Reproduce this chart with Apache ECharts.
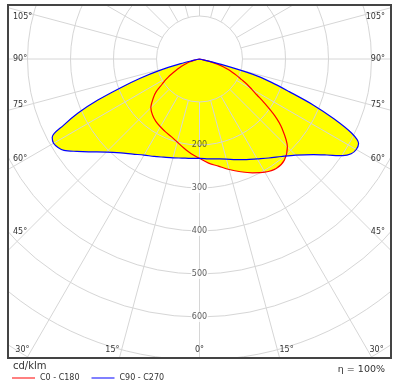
<!DOCTYPE html>
<html><head><meta charset="utf-8">
<script src="https://cdn.jsdelivr.net/npm/echarts@6/dist/echarts.min.js"></script>
<style>html,body{margin:0;padding:0;background:#fff}#c{width:401px;height:388px}</style>
</head><body><div id="c"></div>
<script>
// gamma angles (deg from nadir)
const gammaAngles = [0,5,10,15,20,25,30,35,40,45,50,53,56,58,60,62,64,66,68,70,72,74,76,77,78,80,85,90];
// C0 - C180 plane (cd/klm)
const c0Values   = [231,243,253,266,279,292,304,311,307,289,250,219,181,157,140,125,108,95,82,70,58,45,25,16,9,3,0,0];
const c180Values = [231,221,210,200,192,187,182,177,170,160,140,126,105,95,84,72,62,53,45,37,30,23,15,11,8,3,0,0];
// C90 - C270 plane (cd/klm)
const c90Values  = [231,233,236,241,249,258,268,281,296,316,346,371,402,416,421,419,394,343,285,222,176,128,52,12,0,0,0,0];
const c270Values = [231,232,234,238,243,250,258,270,285,306,336,357,380,388,392,388,352,310,255,195,145,98,45,15,0,0,0,0];
const radiusTicks = [200,300,400,500,600];
const angleTickLabels = [0,15,30,45,60,75,90,105];
const seriesNames = ['C0 - C180','C90 - C270'];
const unitLabel = 'cd/klm';
const efficiencyLabel = 'η = 100%';

const FONT = '"DejaVu Sans", Verdana, sans-serif';
const cx = 199.5, cy = 59, px100 = 43;
const frame = {l:8, t:5, r:391, b:358};

function side(values){
  const out = [];
  for (let i = 0; i < gammaAngles.length; i++) {
    out.push([gammaAngles[i], values[i]]);
    if (values[i] === 0) break;
  }
  return out;
}
function curve(rightVals, leftVals){
  const r = side(rightVals), l = side(leftVals);
  const pts = [];
  for (let i = r.length - 1; i >= 1; i--) pts.push([r[i][1], 360 - r[i][0]]);
  for (let i = 0; i < l.length; i++) pts.push([l[i][1], l[i][0]]);
  return pts;
}
const redCurve = curve(c0Values, c180Values);
const blueCurve = curve(c90Values, c270Values);

// angle labels placed along spokes at the frame edges
const graphics = [];
const txt = (x, y, text, align, size) => ({
  type: 'text', x: x, y: y, z: 60, silent: true,
  style: {text: text, font: (size||8) + 'px ' + FONT, fill: '#333',
          align: align, verticalAlign: 'middle', textAlign: align, textVerticalAlign: 'middle'}
});
angleTickLabels.forEach(g => {
  const rad = g * Math.PI / 180;
  if (g === 0) { graphics.push(txt(cx, 350, '0°', 'center')); return; }
  const bottomY = 350;
  const dxb = (bottomY - cy) * Math.tan(rad);
  if (g < 90 && cx - dxb > 26) {
    graphics.push(txt(cx - dxb - 2, bottomY, g + '°', 'right'));
    graphics.push(txt(cx + dxb + 2, bottomY, g + '°', 'left'));
  } else {
    let y = cy + (cx - 27) / Math.tan(rad);
    if (g === 90) y = cy;
    y = Math.max(17, Math.min(345, y));
    graphics.push(txt(13, y, g + '°', 'left'));
    graphics.push(txt(385, y, g + '°', 'right'));
  }
});
// masks outside frame + frame
const W = 401, H = 388;
[[0,0,frame.l,H],[frame.r,0,W-frame.r,H],[0,0,W,frame.t],[0,frame.b,W,H-frame.b]].forEach(r => {
  graphics.push({type:'rect', z:50, silent:true, shape:{x:r[0],y:r[1],width:r[2],height:r[3]}, style:{fill:'#fff'}});
});
graphics.push({type:'rect', z:51, silent:true, shape:{x:frame.l,y:frame.t,width:frame.r-frame.l,height:frame.b-frame.t},
  style:{fill:'none', stroke:'#444', lineWidth:2}});
graphics.push(txt(13, 366, unitLabel, 'left', 10));
graphics.push(txt(385, 370, efficiencyLabel, 'right', 9.5));

const gridColor = '#d6d6d6';
const chart = echarts.init(document.getElementById('c'));
chart.setOption({
  animation: false,
  backgroundColor: '#fff',
  polar: [
    {center: [cx, cy], radius: [px100, px100 * 10]},
    {center: [cx, cy], radius: [0, px100 * 8]}
  ],
  angleAxis: [
    {polarIndex: 0, type: 'value', min: 0, max: 360, interval: 15, startAngle: 270, clockwise: true, z: 5,
     axisLine: {show: false}, axisTick: {show: false}, axisLabel: {show: false},
     splitLine: {show: true, lineStyle: {color: gridColor, width: 1}}},
    {polarIndex: 1, type: 'value', min: 0, max: 360, interval: 15, startAngle: 270, clockwise: true, z: 5,
     axisLine: {show: false}, axisTick: {show: false}, axisLabel: {show: false}, splitLine: {show: false}}
  ],
  radiusAxis: [
    {polarIndex: 0, type: 'value', min: 100, max: 1000, z: 5,
     axisLine: {show: false}, axisTick: {show: false}, axisLabel: {show: false}, splitLine: {show: false}},
    {polarIndex: 1, type: 'value', min: 0, max: 800, interval: 100, z: 5,
     axisLine: {show: false}, axisTick: {show: false}, axisLabel: {show: false},
     splitLine: {show: true, lineStyle: {color: gridColor, width: 1}}}
  ],
  legend: {
    data: seriesNames, left: 12, top: 374, padding: 0, z: 100,
    icon: 'rect', itemWidth: 23, itemHeight: 1, itemGap: 12, selectedMode: false,
    textStyle: {fontSize: 8, color: '#333', fontFamily: FONT}
  },
  graphic: {elements: graphics},
  series: [
    {type: 'line', coordinateSystem: 'polar', polarIndex: 1, data: blueCurve, smooth: 0.3, symbol: 'none',
     silent: true, z: 1, lineStyle: {width: 0, opacity: 0}, areaStyle: {color: '#ffff00', opacity: 1}, clip: false},
    {type: 'line', coordinateSystem: 'polar', polarIndex: 1, data: redCurve, smooth: 0.3, symbol: 'none',
     silent: true, z: 1, lineStyle: {width: 0, opacity: 0}, areaStyle: {color: '#ffff00', opacity: 1}, clip: false},
    {name: seriesNames[0], type: 'line', coordinateSystem: 'polar', polarIndex: 1, data: redCurve, smooth: 0.3,
     symbol: 'none', z: 10, color: '#ff0000', itemStyle: {color: '#ff0000'},
     lineStyle: {color: '#ff0000', width: 1.2}, clip: false},
    {name: seriesNames[1], type: 'line', coordinateSystem: 'polar', polarIndex: 1, data: blueCurve, smooth: 0.3,
     symbol: 'none', z: 11, color: '#0000ff', itemStyle: {color: '#0000ff'},
     lineStyle: {color: '#0000ff', width: 1.2}, clip: false},
    {type: 'scatter', coordinateSystem: 'polar', polarIndex: 1, z: 20, silent: true,
     data: radiusTicks.map(v => [v, 0]), symbolSize: 1, itemStyle: {color: 'rgba(0,0,0,0)'},
     label: {show: true, position: 'inside', fontSize: 8, color: '#333', fontFamily: FONT,
       formatter: p => (p.value[0] === 200 ? '{t|' : '{b|') + p.value[0] + '}',
       rich: {t: {fontSize: 8, color: '#333', fontFamily: FONT},
              b: {fontSize: 8, color: '#333', fontFamily: FONT, backgroundColor: '#fff', padding: [1, 1]}}}}
  ]
});
</script></body></html>
